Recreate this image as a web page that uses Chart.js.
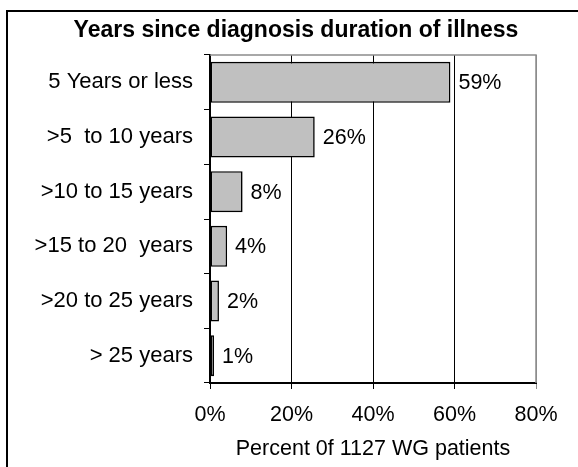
<!DOCTYPE html>
<html>
<head>
<meta charset="utf-8">
<script src="https://cdn.jsdelivr.net/npm/chart.js@4"></script>
<style>
html,body{margin:0;padding:0;background:#fff;}
#wrap{position:absolute;left:0;top:0;width:578px;height:467px;}
</style>
</head>
<body>
<div id="wrap"><canvas id="c" width="578" height="467"></canvas></div>
<script>
const titleText = "Years since diagnosis duration of illness";
const categories = ["5 Years or less", ">5  to 10 years", ">10 to 15 years", ">15 to 20  years", ">20 to 25 years", "> 25 years"];
const percents = [59, 25.7, 8, 4.2, 2.2, 1];
const xTicks = [0, 20, 40, 60, 80];
const xAxisTitle = "Percent 0f 1127 WG patients";

const FONT = "'Liberation Sans', Arial, sans-serif";

const framePlugin = {
  id: 'frame',
  beforeDraw(chart) {
    const ctx = chart.ctx;
    ctx.save();
    ctx.fillStyle = '#fff';
    ctx.fillRect(0, 0, chart.width, chart.height);
    ctx.strokeStyle = '#000';
    ctx.lineWidth = 2;
    ctx.strokeRect(7, 11, 640, 540);
    ctx.fillStyle = '#000';
    ctx.font = "bold 23px " + FONT;
    ctx.textAlign = 'center';
    ctx.textBaseline = 'middle';
    ctx.fillText(titleText, 296, 31);
    ctx.restore();
  },
  beforeDatasetsDraw(chart) {
    const a = chart.chartArea;
    const ctx = chart.ctx;
    ctx.save();
    ctx.strokeStyle = '#8c8c8c';
    ctx.lineWidth = 1.5;
    ctx.beginPath();
    ctx.moveTo(a.left, a.top);
    ctx.lineTo(a.right, a.top);
    ctx.lineTo(a.right, a.bottom);
    ctx.stroke();
    ctx.restore();
  }
};

const labelPlugin = {
  id: 'vlabels',
  afterDatasetsDraw(chart) {
    const ctx = chart.ctx;
    const meta = chart.getDatasetMeta(0);
    ctx.save();
    ctx.fillStyle = '#000';
    ctx.font = "21.5px " + FONT;
    ctx.textAlign = 'left';
    ctx.textBaseline = 'middle';
    meta.data.forEach((el, i) => {
      ctx.fillText(Math.round(percents[i]) + '%', el.x + 8, el.y + 1);
    });
    ctx.restore();
  }
};

new Chart(document.getElementById('c'), {
  type: 'bar',
  data: {
    labels: categories,
    datasets: [{
      data: percents,
      backgroundColor: '#c0c0c0',
      borderColor: '#000',
      borderWidth: 1.6,
      borderSkipped: false,
      barPercentage: 0.75,
      categoryPercentage: 1.0
    }]
  },
  options: {
    indexAxis: 'y',
    responsive: false,
    animation: false,
    devicePixelRatio: 1,
    layout: { padding: { left: 0, right: 42, top: 55, bottom: 0 } },
    plugins: { legend: { display: false }, tooltip: { enabled: false }, title: { display: false } },
    scales: {
      x: {
        min: 0, max: 80,
        afterBuildTicks(scale) { scale.ticks = xTicks.map(v => ({ value: v })); },
        afterFit(scale) { scale.height = 84; },
        ticks: {
          color: '#000',
          font: { family: FONT, size: 21.5 },
          padding: 13,
          maxRotation: 0,
          callback: v => v + '%'
        },
        grid: {
          color: ctx => (ctx.tick && ctx.tick.value === 80) ? '#8c8c8c' : '#000',
          lineWidth: 1,
          tickLength: 6,
          drawTicks: true
        },
        border: { display: true, color: '#000', width: 2 },
        title: {
          display: true,
          text: xAxisTitle,
          color: '#000',
          font: { family: FONT, size: 21.5 },
          padding: { top: 2, bottom: 5 }
        }
      },
      y: {
        afterFit(scale) { scale.width = 210; },
        ticks: {
          color: '#000',
          font: { family: FONT, size: 22 },
          padding: 11
        },
        grid: {
          offset: true,
          drawOnChartArea: false,
          drawTicks: true,
          tickLength: 6,
          color: '#000'
        },
        border: { display: true, color: '#000', width: 2 }
      }
    }
  },
  plugins: [framePlugin, labelPlugin]
});
</script>
</body>
</html>
